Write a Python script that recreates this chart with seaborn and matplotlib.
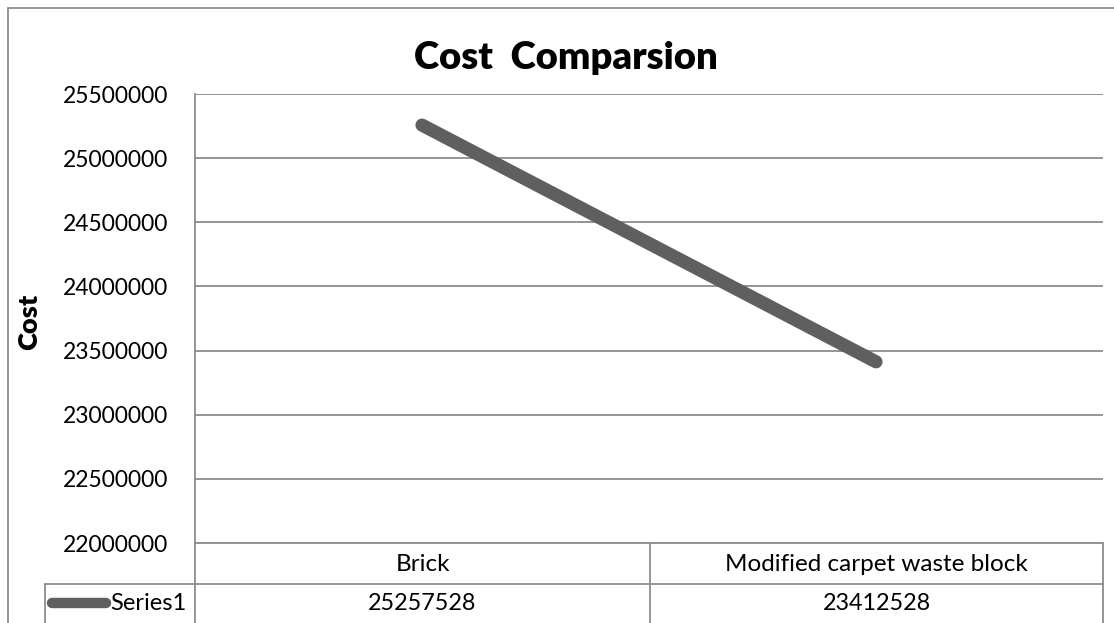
import matplotlib
matplotlib.use("Agg")
import matplotlib.pyplot as plt
import seaborn as sns
import pandas as pd
from matplotlib.lines import Line2D
from matplotlib.patches import Rectangle

# Chart data
categories = ["Brick", "Modified carpet waste block"]
costs = [25257528, 23412528]
series_name = "Series1"
y_ticks = [22000000, 22500000, 23000000, 23500000, 24000000, 24500000, 25000000, 25500000]

sns.set_theme(style="white")
plt.rcParams["font.family"] = ["Lato", "DejaVu Sans"]
plt.rcParams["text.color"] = "black"

W, H = 1114, 623
fig = plt.figure(figsize=(W / 100, H / 100), dpi=100)
fig.patch.set_facecolor("white")

def fx(px):
    return px / W

def fy(py):
    return 1 - py / H

left, right, top, bottom = 195, 1103, 94, 543
ax = fig.add_axes([fx(left), fy(bottom), fx(right) - fx(left), fy(top) - fy(bottom)])

df = pd.DataFrame({"category": categories, "cost": costs})
sns.lineplot(data=df, x="category", y="cost", ax=ax, color="#5f5f5f",
             linewidth=9.5, solid_capstyle="round", sort=False)

ax.set_xlim(-0.5, 1.5)
ax.set_ylim(y_ticks[0], y_ticks[-1])
ax.set_yticks(y_ticks)
ax.set_yticklabels([str(v) for v in y_ticks], fontsize=16.5, color="black")
ax.tick_params(axis="y", length=0, pad=19)
ax.set_xticks([])
ax.set_xlabel("")
ax.set_ylabel("")
ax.grid(axis="y", color="#8c8c8c", linewidth=1.3)
ax.set_axisbelow(True)
for side in ["top", "right", "bottom"]:
    ax.spines[side].set_visible(False)
ax.spines["left"].set_color("#8c8c8c")
ax.spines["left"].set_linewidth(1.3)

fig.text(fx(566), fy(58), "Cost  Comparsion", fontsize=27.5, fontweight="heavy",
         ha="center", va="center", color="black")
fig.text(fx(29), fy(322), "Cost", fontsize=19.5, fontweight="heavy",
         rotation=90, ha="center", va="center", color="black")

# Data table beneath the plot
gc = "#8c8c8c"
lw = 1.3
row1_bot = 584
divider = 650
col_centers = [(left + divider) / 2, (divider + right) / 2]

def hline(x0, x1, y):
    fig.add_artist(Line2D([fx(x0), fx(x1)], [fy(y), fy(y)], color=gc, linewidth=lw))

def vline(x, y0, y1):
    fig.add_artist(Line2D([fx(x), fx(x)], [fy(y0), fy(y1)], color=gc, linewidth=lw))

hline(left, right, bottom)
hline(45, right, row1_bot)
vline(left, bottom, H + 5)
vline(divider, bottom, H + 5)
vline(right, bottom, H + 5)
vline(45, row1_bot, H + 5)

for cx, cat, val in zip(col_centers, categories, costs):
    fig.text(fx(cx), fy((bottom + row1_bot) / 2 + 1), cat, fontsize=17.5,
             ha="center", va="center")
    fig.text(fx(cx), fy(604), str(val), fontsize=16.8, ha="center", va="center")

fig.add_artist(Line2D([fx(52), fx(106)], [fy(603), fy(603)], color="#5f5f5f",
                      linewidth=7.5, solid_capstyle="round"))
fig.text(fx(110), fy(604), series_name, fontsize=17, ha="left", va="center")

# Outer chart frame
fig.add_artist(Rectangle((fx(8), fy(H + 20)), fx(W + 20) - fx(8), fy(8) - fy(H + 20),
                         fill=False, edgecolor=gc, linewidth=1.3))

fig.savefig("out.png", dpi=100, facecolor="white")
